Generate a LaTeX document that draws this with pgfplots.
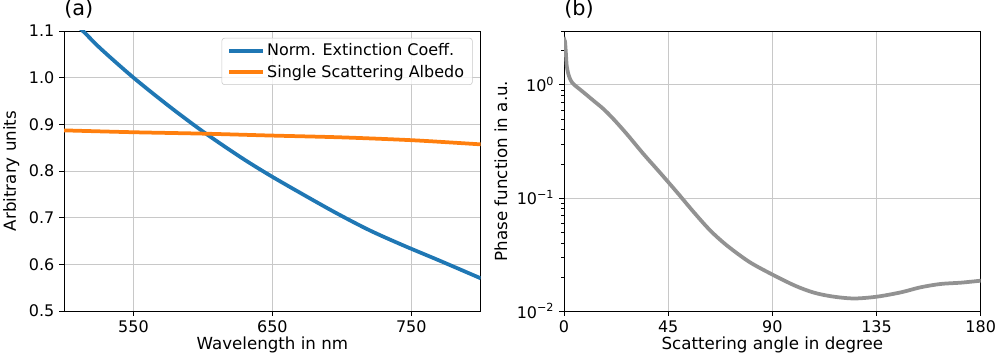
\documentclass[border=0pt]{standalone}
\usepackage{pgfplots}
\pgfplotsset{compat=1.18}
\usepackage{fontspec}
\setmainfont{DejaVu Sans}
\definecolor{mblue}{HTML}{1F77B4}
\definecolor{morange}{HTML}{FF7F0E}
\definecolor{mgray}{HTML}{929292}
\definecolor{mgrid}{HTML}{C8C8C8}
\pgfplotsset{
  mystyle/.style={
    scale only axis, width=300pt, height=201.6pt,
    tick align=outside, xtick pos=lower, ytick pos=left,
    grid=major, major grid style={mgrid, line width=0.6pt},
    axis line style={line width=0.6pt},
    every tick/.style={black, line width=0.6pt},
    major tick length=3.5pt, minor tick length=2pt,
    tick label style={font=\fontsize{11.5}{13}\selectfont},
    label style={font=\fontsize{12}{14}\selectfont},
    xlabel style={yshift=4pt},
    /pgf/number format/assume math mode=true,
    title style={font=\fontsize{15}{17}\selectfont, anchor=south west, at={(rel axis cs:0,1)}, inner sep=0pt, yshift=3pt},
  }
}
\begin{document}
\begin{tikzpicture}
\useasboundingbox (-46.1pt,-33.1pt) rectangle (671pt,223.9pt);
\begin{axis}[mystyle,
  xmin=500, xmax=800, ymin=0.5, ymax=1.1,
  xtick={550,650,750}, ytick={0.5,0.6,0.7,0.8,0.9,1.0,1.1},
  yticklabel style={/pgf/number format/.cd, fixed, fixed zerofill, precision=1},
  xlabel={Wavelength in nm}, ylabel={Arbitrary units},
  title={(a)},
  legend style={at={(1,1)}, anchor=north east, xshift=-5.8pt, yshift=-5pt,
    draw=mgrid, rounded corners=2pt, fill=white, fill opacity=0.8, text opacity=1,
    font=\fontsize{11.5}{13}\selectfont, row sep=1pt, inner xsep=4pt, inner ysep=2pt},
  legend cell align=left,
  legend image code/.code={\draw[#1] (0pt,0pt) -- (24pt,0pt);},
]
\addplot[mblue, line width=2.7pt, smooth, tension=0.5] coordinates {
(500,1.137) (513.9,1.099) (526.4,1.062) (550,1.000) (576.4,0.937) (600.5,0.8835)
(626.9,0.830) (648,0.791) (671.9,0.750) (695.9,0.710) (719.9,0.673) (743.9,0.641)
(770.3,0.608) (800,0.570)};
\addlegendentry{Norm. Extinction Coeff.}
\addplot[morange, line width=2.7pt, smooth, tension=0.5] coordinates {
(500,0.887) (550,0.883) (600,0.880) (648,0.876) (700,0.872) (751.9,0.8657) (800,0.857)};
\addlegendentry{Single Scattering Albedo}
\end{axis}
\begin{axis}[mystyle, at={(360pt,0pt)},
  ymode=log, xmin=0, xmax=180, ymin=0.01, ymax=3,
  xtick={0,45,90,135,180},
  ytick={0.01,0.1,1},
  minor ytick={0.02,0.03,0.04,0.05,0.06,0.07,0.08,0.09,0.2,0.3,0.4,0.5,0.6,0.7,0.8,0.9,2,3},
  minor grid style={draw=none},
  yticklabels={10\textsuperscript{−2},10\textsuperscript{−1},10\textsuperscript{0}},
  xlabel={Scattering angle in degree}, ylabel={Phase function in a.u.},
  title={(b)},
]
\addplot[mgray, line width=2.7pt, smooth, tension=0.5] coordinates {
(0.2,2.45) (0.43,2.42) (0.8,1.9) (1.15,1.48) (1.8,1.26) (2.6,1.13) (3.6,1.04) (4.8,0.986)
(8.4,0.86) (12.7,0.726) (17,0.613) (21.3,0.50) (27.1,0.368) (34.3,0.245)
(41.5,0.167) (49,0.111) (56,0.0750) (63.2,0.0514) (70.4,0.0379)
(80,0.0272) (90,0.0210) (100,0.01667) (108,0.01452) (116,0.01343)
(125.2,0.0129) (135,0.01337) (145.4,0.0146) (154,0.0162) (162.7,0.01734)
(171.4,0.0178) (180,0.01854)};
\end{axis}
\end{tikzpicture}
\end{document}
